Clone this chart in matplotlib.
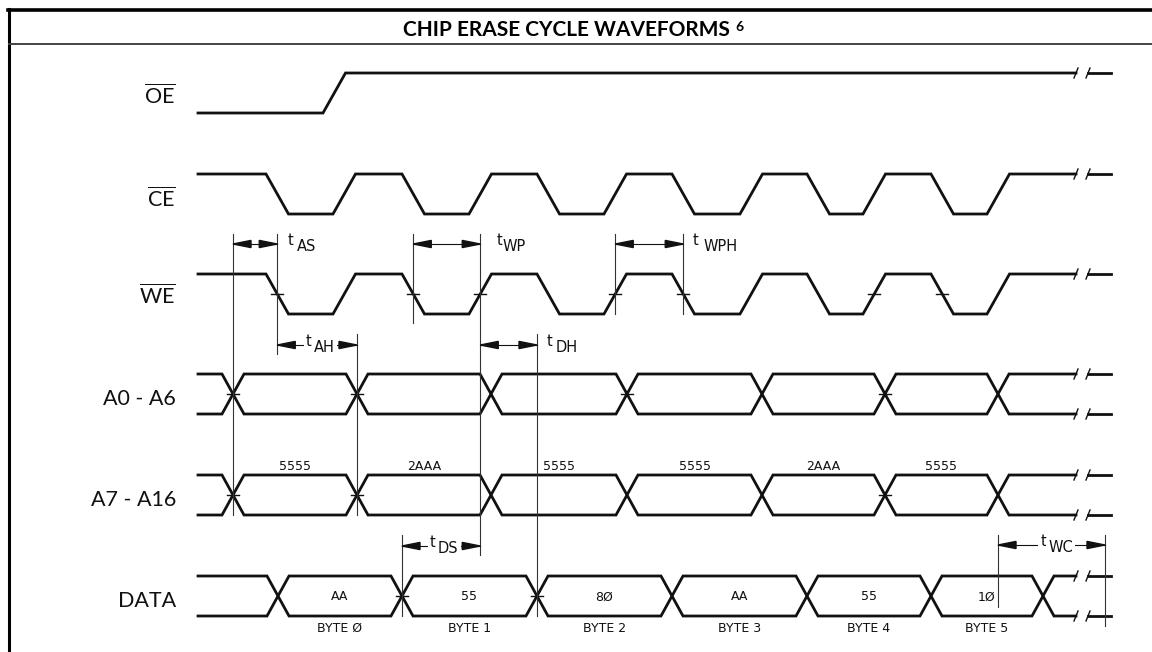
import matplotlib.pyplot as plt
from matplotlib.patches import Polygon

# ========= timing values (x in drawing units) =========
oe_rise = 323
ce_falls = [266, 402, 537, 672, 807, 931]
ce_rises = [333, 469, 604, 740, 863, 987]
we_falls = [266, 402, 537, 672, 807, 931]
we_rises = [333, 469, 604, 740, 863, 987]
addr_cross = [233, 357, 491, 627, 762, 885, 998]
data_cross = [278, 402, 537, 672, 807, 931, 1043]
wc_end = 1105

addr_vals = ["5555", "2AAA", "5555", "5555", "2AAA", "5555"]
data_vals = ["AA", "55", "8Ø", "AA", "55", "1Ø"]
byte_names = ["BYTE Ø", "BYTE 1", "BYTE 2", "BYTE 3", "BYTE 4", "BYTE 5"]

# which edges carry the small reference tick
we_tick_falls = [0, 1, 3, 5]
we_tick_rises = [1, 2, 4]
a_lo_ticks = [0, 1, 3, 5]
a_hi_ticks = [0, 1, 5]
data_ticks = [1, 2]

# ========= layout =========
X0, XB, XE = 198, 1076, 1111
EDGE = 22.5
HALF = 11
LW = 2.0
THIN = 0.8
INK = "#111111"

ROWS = {
    "OE": (73, 113), "CE": (174, 214), "WE": (274, 314),
    "A0": (374, 414), "A7": (475, 515), "DATA": (576, 616),
}

fig = plt.figure(figsize=(11.52, 6.52), dpi=100)
ax = fig.add_axes([0, 0, 1, 1])
ax.set_xlim(0, 1152)
ax.set_ylim(652, 0)
ax.axis("off")


def break_marks(y):
    for x in (XB, XB + 12):
        ax.plot([x - 2, x + 2], [y + 5, y - 5], color=INK, lw=1.0)
    ax.plot([XB + 12, XE], [y, y], color=INK, lw=LW)


def level_wave(row, falls, rises, start_hi=True):
    hi, lo = ROWS[row]
    edges = sorted([(t, lo) for t in falls] + [(t, hi) for t in rises])
    y = hi if start_hi else lo
    xs, ys = [X0], [y]
    for t, ny in edges:
        xs += [t, t + EDGE]
        ys += [y, ny]
        y = ny
    xs.append(XB)
    ys.append(y)
    ax.plot(xs, ys, color=INK, lw=LW, solid_joinstyle="miter")
    break_marks(y)


def bus(row, cross, ticks):
    top, bot = ROWS[row]
    for start in (top, bot):
        y = start
        xs, ys = [X0], [y]
        for c in cross:
            ny = bot if y == top else top
            xs += [c - HALF, c + HALF]
            ys += [y, ny]
            y = ny
        xs.append(XB)
        ys.append(y)
        ax.plot(xs, ys, color=INK, lw=LW, solid_joinstyle="miter")
        break_marks(y)
    mid = (top + bot) / 2
    for i in ticks:
        ax.plot([cross[i] - 6, cross[i] + 6], [mid, mid], color=INK, lw=1.0)


def dim_arrow(x0, x1, y, L=18, hw=3.6):
    ax.plot([x0, x1], [y, y], color=INK, lw=THIN)
    ax.add_patch(Polygon([(x0, y), (x0 + L, y - hw), (x0 + L, y + hw)],
                         closed=True, color=INK, zorder=4))
    ax.add_patch(Polygon([(x1, y), (x1 - L, y - hw), (x1 - L, y + hw)],
                         closed=True, color=INK, zorder=4))


def t_label(x, y, sub, gap=2, boxed=False):
    kw = dict(fontsize=10.5, family="DejaVu Sans", color=INK, zorder=3)
    if boxed:
        kw["bbox"] = dict(facecolor="white", edgecolor="none", pad=1.5)
    t = ax.text(x, y, "t", ha="left", va="baseline", **kw)
    ax.annotate(sub, xy=(1, 0), xycoords=t, xytext=(gap, -4.5),
                textcoords="offset points", ha="left", va="bottom", **kw)


# ========= frame and title =========
ax.plot([7.5, 1152], [10, 10], color="black", lw=2.6)
ax.plot([9, 9], [8.5, 652], color="black", lw=2.2)
ax.plot([9, 1152], [43.5, 43.5], color="#444444", lw=1.4)
title = ax.text(566, 36, "CHIP ERASE CYCLE WAVEFORMS", ha="center", va="baseline",
                fontsize=15, fontweight="bold", family=["Lato", "DejaVu Sans"])
ax.annotate("6", xy=(1, 1), xycoords=title, xytext=(4, -1), textcoords="offset points",
            ha="left", va="top", fontsize=10, fontweight="bold",
            family=["Lato", "DejaVu Sans"])

# ========= signal names =========
names = [(r"$\overline{\mathregular{OE}}$", 104), (r"$\overline{\mathregular{CE}}$", 207),
         (r"$\overline{\mathregular{WE}}$", 304), ("A0 - A6", 405),
         ("A7 - A16", 506), ("DATA", 607)]
for txt, yb in names:
    ax.text(176, yb, txt, ha="right", va="baseline", fontsize=15.5,
            family=["Lato", "DejaVu Sans"], color=INK)

# ========= waveforms =========
level_wave("OE", [], [oe_rise], start_hi=False)
level_wave("CE", ce_falls, ce_rises)
level_wave("WE", we_falls, we_rises)

we_hi, we_lo = ROWS["WE"]
we_mid = (we_hi + we_lo) / 2
we_fall_mid = [f + EDGE / 2 for f in we_falls]
we_rise_mid = [r + EDGE / 2 for r in we_rises]
for i in we_tick_falls:
    ax.plot([we_fall_mid[i] - 6, we_fall_mid[i] + 6], [we_mid, we_mid], color=INK, lw=1.0)
for i in we_tick_rises:
    ax.plot([we_rise_mid[i] - 6, we_rise_mid[i] + 6], [we_mid, we_mid], color=INK, lw=1.0)

bus("A0", addr_cross, a_lo_ticks)
bus("A7", addr_cross, a_hi_ticks)
bus("DATA", data_cross, data_ticks)

small = dict(fontsize=9, family="DejaVu Sans", color=INK, ha="center", va="center")
for i, v in enumerate(addr_vals):
    ax.text((addr_cross[i] + addr_cross[i + 1]) / 2, 466, v, **small)
for i, (v, b) in enumerate(zip(data_vals, byte_names)):
    xc = (data_cross[i] + data_cross[i + 1]) / 2
    ax.text(xc, 597, v, **small)
    ax.text(xc, 628, b, **small)

# ========= timing guides =========
guides = [
    (addr_cross[0], 234, 515), (we_fall_mid[0], 234, 354),
    (we_fall_mid[1], 234, 323), (we_rise_mid[1], 234, 555),
    (addr_cross[1], 334, 515), (data_cross[2], 334, 616),
    (we_rise_mid[2], 234, 314), (we_fall_mid[3], 234, 314),
    (data_cross[1], 535, 616), (addr_cross[6], 535, 607),
    (wc_end, 535, 626),
]
for x, y0, y1 in guides:
    ax.plot([x, x], [y0, y1], color="#333333", lw=THIN)

# name, start, end, arrow y, label style, label offset, sub gap
timings = [
    ("AS", addr_cross[0], we_fall_mid[0], 244, "right", 10, 2.5),
    ("WP", we_fall_mid[1], we_rise_mid[1], 244, "right", 16, 0.5),
    ("WPH", we_rise_mid[2], we_fall_mid[3], 244, "right", 9, 4),
    ("AH", we_fall_mid[0], addr_cross[1], 345, "mid", 0, 1.5),
    ("DH", we_rise_mid[1], data_cross[2], 345, "right", 10, 2),
    ("DS", data_cross[1], we_rise_mid[1], 546, "mid", 0, 1.5),
    ("WC", addr_cross[6], wc_end, 545, "mid", 0, 1.5),
]
for sub, x0, x1, y, style, off, gap in timings:
    dim_arrow(x0, x1, y)
    if style == "right":
        t_label(x1 + off, y + 1, sub, gap=gap)
    else:
        width = 6 + 10 * len(sub)
        t_label((x0 + x1) / 2 - width / 2 + 2, y + 1, sub, gap=gap, boxed=True)

fig.savefig("out.png", dpi=100)
